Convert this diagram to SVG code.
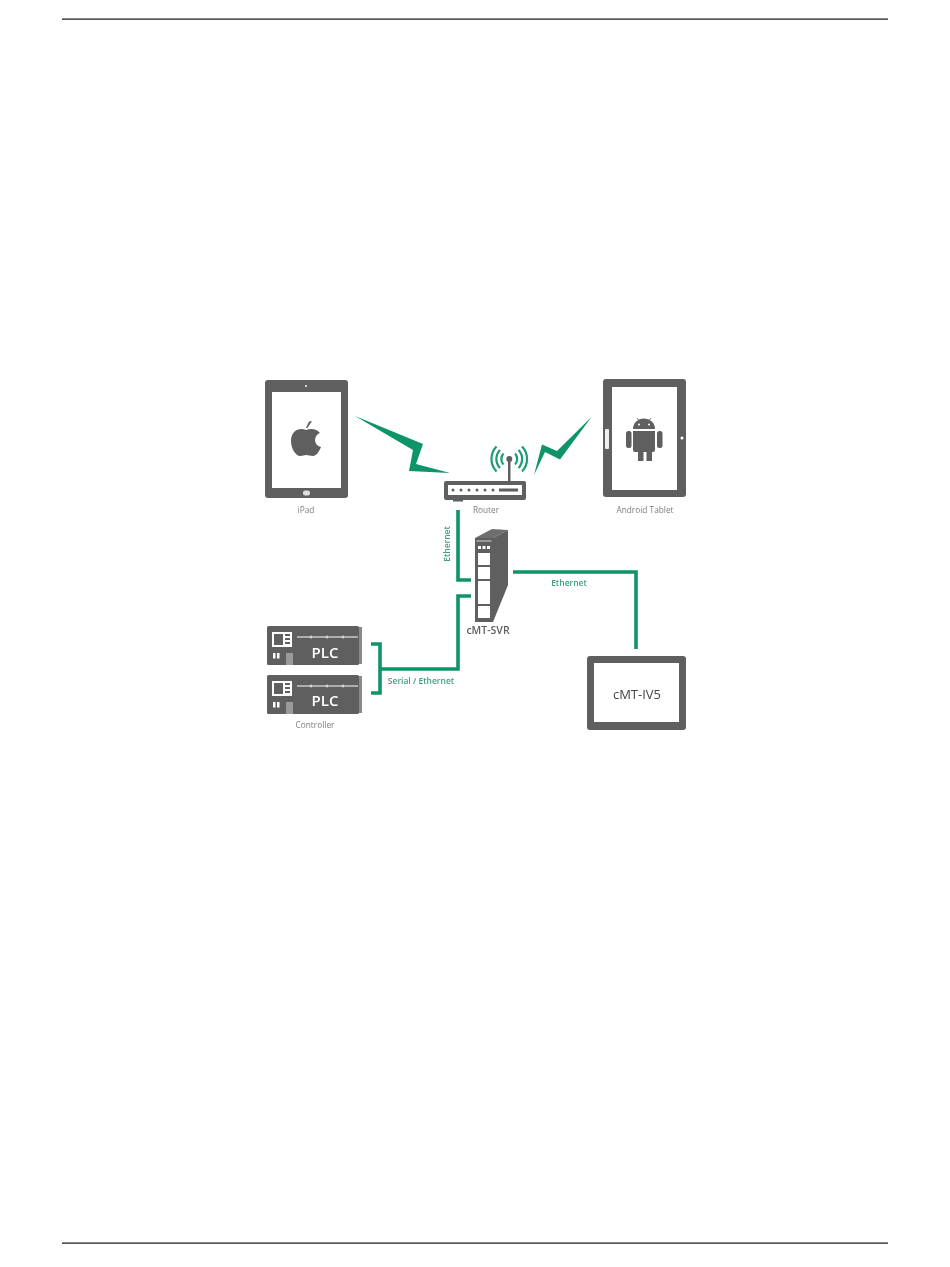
<svg xmlns="http://www.w3.org/2000/svg" width="950" height="1267" viewBox="0 0 950 1267">
<style>
text{font-family:"Open Sans","Liberation Sans",sans-serif;text-anchor:middle}
.g{fill:#5e5e5e}
.w{fill:#fff}
.lb{font-size:8.3px;fill:#7e7e7e}
.gl{font-size:8.500px;fill:#3f9f80;font-weight:600}
.c{fill:none;stroke:#0a9468;stroke-width:3.600}
.b{fill:#0a9468}
.a{fill:none;stroke:#1a9c74;stroke-width:2.200}
.plc{font-size:15px;fill:#fff;font-weight:600}
.t{stroke:#fff;stroke-width:1;fill:none}
</style>
<defs>
<filter id="soft" x="-5%" y="-5%" width="110%" height="110%"><feGaussianBlur stdDeviation="0.4"/></filter>
<g id="plcUnit">
<rect x="267" y="0" width="92" height="39" rx="1.5" class="g"/>
<rect x="359" y="1" width="3" height="37" fill="#8a8a8a"/>
<rect x="272" y="6" width="20" height="15" class="w"/>
<rect x="274" y="8" width="9" height="11" class="g"/>
<rect x="285" y="8" width="5" height="2" class="g"/><rect x="285" y="12" width="5" height="2" class="g"/><rect x="285" y="16" width="5" height="2" class="g"/>
<rect x="273" y="27" width="2.500" height="5.500" class="w"/><rect x="277" y="27" width="2.500" height="5.500" class="w"/>
<rect x="286" y="27" width="7" height="12" fill="#9a9a9a"/>
<path class="t" d="M297 11H358M311 9.500v3M327 9.500v3M343 9.500v3"/>
</g>
</defs>
<rect width="950" height="1267" fill="#fff"/>
<g id="page-rules" fill="#111"><rect x="62" y="18.500" width="826" height="1.200"/><rect x="62" y="1242.500" width="826" height="1.200"/></g>
<g filter="url(#soft)">
<g id="connectors">
<path class="c" d="M458 510V580H471"/>
<path class="c" d="M471 596H458V669H380"/>
<path class="c" d="M371 644H380V693H371"/>
<path class="c" d="M513 572H636V649"/>
<path class="b" d="M355 416L423 444L416 464L450 473L409 471L413 450Z"/>
<path class="b" d="M591.700 416.700L560 459.500L545 452L534 475L542 444.500L557 451Z"/>
</g>
<g id="ipad">
<rect x="265" y="380" width="83" height="118" rx="3" class="g"/>
<rect x="272" y="392" width="69" height="96" class="w"/>
<circle cx="306" cy="386" r="1" class="w"/>
<rect x="303" y="490.500" width="7" height="5" rx="2" fill="#ddd"/>
<path class="g" d="M312 421L307.500 428L306 428L309 421.500Z"/>
<path class="g" d="M306 430C300 427 291 430 291 441C291 449 296 456 300 456C303 456 304 455 306 455C309 455 310 456 313 456C316 456 319 452 321 447C317 446 315 443 315 440C315 437 317 434 320 433C317 429 311 428 306 430Z"/>
<text x="306" y="513" class="lb">iPad</text>
</g>
<g id="router">
<path class="g" d="M508 458H510.500V481H508Z"/>
<circle cx="509.300" cy="459" r="3" class="g"/>
<path class="a" d="M503.500 453.500a8 8 0 0 0 0 11M500 450a13 13 0 0 0 0 18M496.500 446.500a18 18 0 0 0 0 25"/>
<path class="a" d="M515 453.500a8 8 0 0 1 0 11M518.500 450a13 13 0 0 1 0 18M522 446.500a18 18 0 0 1 0 25"/>
<rect x="444" y="481" width="82" height="19" rx="2" class="g"/>
<rect x="448" y="485" width="74" height="10" class="w"/>
<g class="g"><circle cx="453" cy="490" r="1.500"/><circle cx="461" cy="490" r="1.500"/><circle cx="469" cy="490" r="1.500"/><circle cx="477" cy="490" r="1.500"/><circle cx="485" cy="490" r="1.500"/><circle cx="493" cy="490" r="1.500"/><rect x="499" y="488.500" width="19" height="3"/></g>
<rect x="453" y="500" width="10" height="1.500" class="g"/>
<text x="486" y="513" class="lb">Router</text>
</g>
<g id="android-tablet">
<rect x="603" y="379" width="83" height="118" rx="3" class="g"/>
<rect x="612" y="387" width="65" height="103" class="w"/>
<rect x="605" y="429" width="4" height="20" rx="1" fill="#eee"/>
<circle cx="682" cy="438" r="1.500" class="w"/>
<path class="g" d="M633 429a11 10.500 0 0 1 22 0Z"/>
<path d="M637 418l2 2.500M651 418l-2 2.500" stroke="#5e5e5e" stroke-width=".8"/>
<circle cx="639" cy="424.500" r="1" class="w"/><circle cx="649" cy="424.500" r="1" class="w"/>
<path class="g" d="M633 431H655V450Q655 452 653 452H652V461H646.500V452H643.500V461H638V452H635Q633 452 633 450Z"/>
<rect x="626" y="431" width="5.500" height="17" rx="2.500" class="g"/>
<rect x="657" y="431" width="5.500" height="17" rx="2.500" class="g"/>
<text x="645" y="513" class="lb">Android Tablet</text>
</g>
<g id="cmt-svr">
<path d="M475 538L492 529L508 530L493 538Z" fill="#6e6e6e"/>
<path d="M493 538L508 530V585L493 622Z" class="g"/>
<rect x="475" y="538" width="18" height="84" class="g"/>
<rect x="476.500" y="540" width="15" height="2" fill="#9a9a9a"/>
<g class="w"><rect x="478" y="546" width="3" height="3"/><rect x="482.500" y="546" width="3" height="3"/><rect x="487" y="546" width="3" height="3"/><rect x="478" y="553" width="12" height="12"/><rect x="478" y="567" width="12" height="12"/><rect x="478" y="581" width="12" height="23"/><rect x="478" y="606" width="12" height="12"/></g>
<text x="488" y="634" font-size="10.500" font-weight="600" fill="#5e5e5e">cMT-SVR</text>
</g>
<g id="controller">
<use href="#plcUnit" transform="translate(0 626)"/>
<use href="#plcUnit" transform="translate(0 675)"/>
<text x="325" y="657.500" class="plc">PLC</text>
<text x="325" y="706" class="plc">PLC</text>
<text x="315" y="728" class="lb">Controller</text>
</g>
<g id="cmt-iv5">
<rect x="587" y="656" width="99" height="74" rx="3" class="g"/>
<rect x="594" y="663" width="85" height="59" class="w"/>
<text x="637" y="699" font-size="13" fill="#444">cMT-IV5</text>
</g>
<g id="labels">
<text class="gl" transform="translate(449.500 544) rotate(-90)">Ethernet</text>
<text class="gl" x="569" y="586">Ethernet</text>
<text class="gl" x="421" y="684">Serial / Ethernet</text>
</g>
</g>
</svg>
